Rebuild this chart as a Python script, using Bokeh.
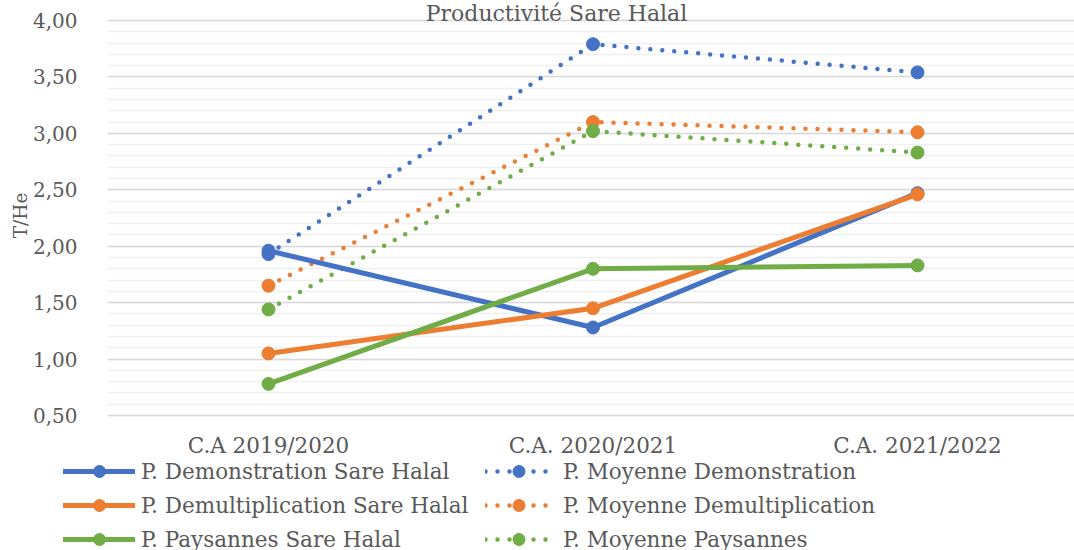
import math
from bokeh.plotting import figure
from bokeh.models import (Range1d, SingleIntervalTicker, CustomJSTickFormatter,
                          Legend, LegendItem, Label, LinearAxis, Grid)
from bokeh.core.properties import value
from bokeh.embed import file_html
from bokeh.resources import INLINE

title_text = "Productivité Sare Halal"
y_label = "T/He"
categories = ["C.A 2019/2020", "C.A. 2020/2021", "C.A. 2021/2022"]

demo_sare = [1.96, 1.28, 2.47]
demul_sare = [1.05, 1.45, 2.46]
pays_sare = [0.78, 1.80, 1.83]
moy_demo = [1.93, 3.79, 3.54]
moy_demul = [1.65, 3.10, 3.01]
moy_pays = [1.44, 3.02, 2.83]

names_solid = ["P. Demonstration Sare Halal", "P. Demultiplication Sare Halal", "P. Paysannes Sare Halal"]
names_dotted = ["P. Moyenne Demonstration", "P. Moyenne Demultiplication", "P. Moyenne Paysannes"]

y_min, y_max = 0.5, 4.0

BLUE, ORANGE, GREEN = "#4472C4", "#ED7D31", "#70AD47"
TXT = "#595959"
FONT = "DejaVu Serif"

xs = list(range(len(categories)))

# layout in pixels: plot area x 107..1074, y 20..415 (0.5 .. 4.0), first category at x=268
W, H = 1074, 550
TOP_PX, AXIS_Y_PX, PLOT_LEFT_PX = 20, 415, 107
CAT0_PX, CAT_STEP_PX = 268, 324.5
py_per_unit = (AXIS_Y_PX - TOP_PX) / (y_max - y_min)
y_bottom = y_min - (H - AXIS_Y_PX) / py_per_unit
y_top = y_max + TOP_PX / py_per_unit
x_start = -CAT0_PX / CAT_STEP_PX
x_end = x_start + W / CAT_STEP_PX
x_plot_left = x_start + PLOT_LEFT_PX / CAT_STEP_PX

p = figure(width=W, height=H, output_backend="svg", toolbar_location=None,
           x_range=Range1d(x_start, x_end), y_range=Range1d(y_bottom, y_top),
           x_axis_location=None, y_axis_location=None,
           min_border_left=0, min_border_right=0, min_border_top=0, min_border_bottom=0)
p.outline_line_color = None
p.background_fill_color = "white"
p.border_fill_color = "white"
p.xgrid.visible = False
p.ygrid.visible = False

yticker = SingleIntervalTicker(interval=0.5, num_minor_ticks=5)

# value axis drawn at the plot-area's left edge
yaxis = LinearAxis(ticker=yticker, fixed_location=x_plot_left, bounds=(y_min, y_max),
                   formatter=CustomJSTickFormatter(code="return tick.toFixed(2).replace('.', ',');"),
                   major_tick_line_color=None, minor_tick_line_color=None, axis_line_color=None,
                   major_label_text_font=FONT, major_label_text_font_size="20px",
                   major_label_text_color=TXT, major_label_standoff=24)
p.add_layout(yaxis, "left")

grid = Grid(dimension=1, ticker=yticker, bounds=(y_min, y_max), cross_bounds=(x_plot_left, x_end),
            grid_line_color="#D9D9D9", grid_line_width=1.5,
            minor_grid_line_color="#F0F0F0", minor_grid_line_width=1.5)
p.add_layout(grid)

p.add_layout(Label(x=20, y=H - 215, x_units="screen", y_units="screen", text=y_label,
                   angle=math.pi / 2, text_align="center", text_baseline="middle",
                   text_font=FONT, text_font_size="18.5px", text_color=TXT))

# category labels along the base of the value axis
p.text(x=xs, y=[y_min] * len(xs), text=categories, y_offset=17,
       text_align="center", text_baseline="top",
       text_font=value(FONT), text_font_size="21.5px", text_color=TXT)

# series
dotted_items = []
for vals, col, name in zip([moy_demo, moy_demul, moy_pays], [BLUE, ORANGE, GREEN], names_dotted):
    l = p.line(xs, vals, line_color=col, line_width=4.5, line_dash="0 12", line_cap="round")
    s = p.scatter(xs, vals, size=13, fill_color=col, line_color=col)
    dotted_items.append(LegendItem(label=name, renderers=[l, s]))

solid_items = []
for vals, col, name in zip([demo_sare, demul_sare, pays_sare], [BLUE, ORANGE, GREEN], names_solid):
    l = p.line(xs, vals, line_color=col, line_width=5, line_cap="round")
    s = p.scatter(xs, vals, size=13, fill_color=col, line_color=col)
    solid_items.append(LegendItem(label=name, renderers=[l, s]))

def mk_legend(items, loc, gw, standoff):
    return Legend(items=items, location=loc, orientation="vertical",
                  glyph_width=gw, glyph_height=30, label_height=30, label_standoff=standoff,
                  spacing=4, padding=0, margin=0,
                  border_line_alpha=0, background_fill_alpha=0,
                  label_text_font=FONT, label_text_font_size="21.5px", label_text_color=TXT)

p.add_layout(mk_legend(solid_items, (63, -4), 72, 6))
p.add_layout(mk_legend(dotted_items, (485, -4), 67, 11))

p.add_layout(Label(x=556, y=H, x_units="screen", y_units="screen", text=title_text,
                   text_align="center", text_baseline="top",
                   text_font=FONT, text_font_size="22px", text_color=TXT))

open("out.html", "w").write(file_html(p, INLINE))
